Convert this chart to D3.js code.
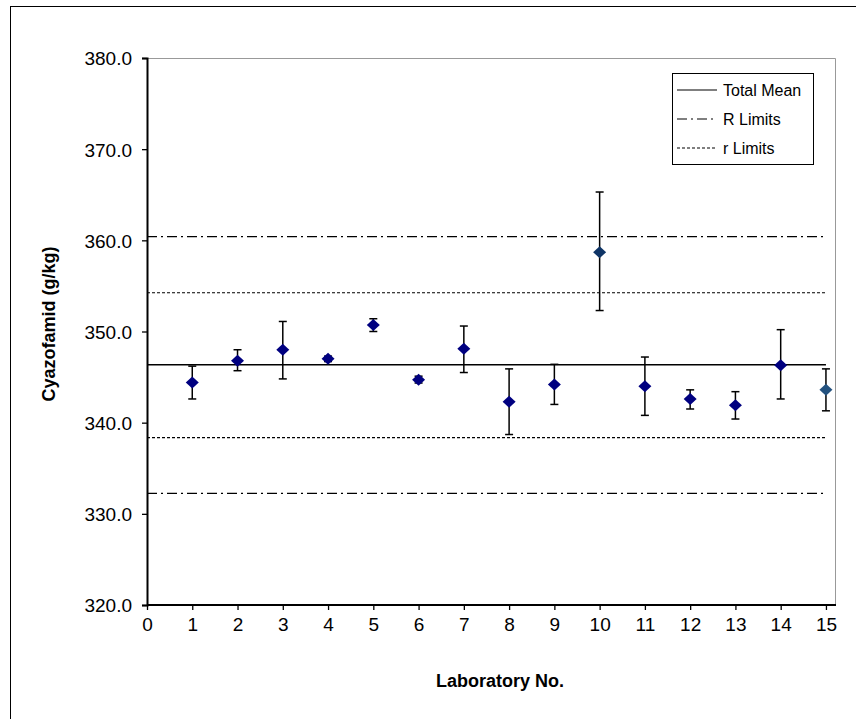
<!DOCTYPE html>
<html lang="en">
<head>
    <meta charset="UTF-8">
    <title>Cyazofamid - Laboratory results</title>
    <script src="https://d3js.org/d3.v7.min.js"></script>
    <style>
        body { margin: 0; background: #fff; font-family: "Liberation Sans", Arial, sans-serif; }
        .tick text { font-size: 19px; fill: #000; }
    </style>
</head>
<body>
<div id="chart"></div>
<script>
    // lab means and error bar ends
    const labs = [1, 2, 3, 4, 5, 6, 7, 8, 9, 10, 11, 12, 13, 14, 15];
    const means = [344.4, 346.8, 348.0, 347.0, 350.7, 344.7, 348.1, 342.3, 344.2, 358.7, 344.0, 342.6, 341.9, 346.3, 343.6];
    const highs = [346.2, 348.0, 351.1, 347.3, 351.4, 345.1, 350.6, 345.9, 346.4, 365.3, 347.2, 343.6, 343.4, 350.2, 345.9];
    const lows  = [342.6, 345.7, 344.8, 346.7, 350.0, 344.35, 345.5, 338.7, 342.0, 352.3, 340.8, 341.5, 340.4, 342.6, 341.3];

    const totalMean = 346.35;
    const bigRLimits = [332.25, 360.4];
    const smallRLimits = [338.35, 354.25];

    const xTicks = d3.range(0, 16);
    const yTicks = [320, 330, 340, 350, 360, 370, 380];

    const width = 856, height = 719;
    const plot = { left: 147, right: 835, top: 58, bottom: 605 };

    const svg = d3.select("#chart").append("svg")
        .attr("width", width)
        .attr("height", height);

    // outer chart frame
    svg.append("rect")
        .attr("x", 10.5).attr("y", 6.5)
        .attr("width", 900).attr("height", 800)
        .attr("fill", "none").attr("stroke", "#000");

    const x = d3.scaleLinear().domain([0, 15.2]).range([plot.left, plot.right]);
    const y = d3.scaleLinear().domain([320, 380]).range([plot.bottom, plot.top]);

    // gray top/right border of plot area
    svg.append("path")
        .attr("d", `M${plot.left},${plot.top + 0.5}H${plot.right + 0.5}V${plot.bottom}`)
        .attr("fill", "none").attr("stroke", "#999").attr("stroke-width", 1);

    // reference lines
    const refLines = [
        { v: totalMean, dash: null, w: 1.5 },
        { v: bigRLimits[0], dash: "10,4,2,4", w: 1.2 },
        { v: bigRLimits[1], dash: "10,4,2,4", w: 1.2 },
        { v: smallRLimits[0], dash: "3,2", w: 1.2 },
        { v: smallRLimits[1], dash: "3,2", w: 1.2 }
    ];
    svg.selectAll(".ref").data(refLines).enter().append("line")
        .attr("class", "ref")
        .attr("x1", x(0)).attr("x2", x(15))
        .attr("y1", d => y(d.v)).attr("y2", d => y(d.v))
        .attr("stroke", "#000")
        .attr("stroke-width", d => d.w)
        .attr("stroke-dasharray", d => d.dash);

    // axes
    const xAxis = svg.append("g")
        .attr("transform", `translate(0,${plot.bottom})`)
        .call(d3.axisBottom(x).tickValues(xTicks).tickFormat(d3.format("d")).tickSizeOuter(0).tickSize(5).tickPadding(8));
    const yAxis = svg.append("g")
        .attr("transform", `translate(${plot.left},0)`)
        .call(d3.axisLeft(y).tickValues(yTicks).tickFormat(d3.format(".1f")).tickSizeOuter(0).tickSize(5).tickPadding(10));
    [xAxis, yAxis].forEach(g => {
        g.select(".domain").attr("stroke", "#000").attr("stroke-width", 2);
        g.selectAll(".tick line").attr("stroke", "#000").attr("stroke-width", 1.3);
        g.selectAll(".tick text").attr("font-family", "Liberation Sans, Arial, sans-serif");
    });
    xAxis.select(".domain").attr("d", `M${plot.left},0H${plot.right + 1}`);
    yAxis.selectAll(".tick text").attr("dy", "0.36em");

    // error bars
    const rows = labs.map((l, i) => ({ lab: l, mean: means[i], hi: highs[i], lo: lows[i] }));
    const eb = svg.append("g").attr("stroke", "#000").attr("stroke-width", 1.5);
    eb.selectAll(".bar").data(rows).enter().append("line")
        .attr("x1", d => x(d.lab)).attr("x2", d => x(d.lab))
        .attr("y1", d => y(d.hi)).attr("y2", d => y(d.lo));
    ["hi", "lo"].forEach(k => {
        eb.selectAll(".cap-" + k).data(rows).enter().append("line")
            .attr("x1", d => x(d.lab) - 4).attr("x2", d => x(d.lab) + 4)
            .attr("y1", d => y(d[k])).attr("y2", d => y(d[k]));
    });

    // diamond markers
    const markerColor = d => d.lab === 10 ? "#0e3466" : d.lab === 15 ? "#24527f" : "#000080";
    svg.selectAll(".pt").data(rows).enter().append("path")
        .attr("class", "pt")
        .attr("transform", d => `translate(${x(d.lab)},${y(d.mean)})`)
        .attr("d", "M0,-6L6.5,0L0,6L-6.5,0Z")
        .attr("fill", markerColor);

    // axis titles
    svg.append("text")
        .attr("x", 500).attr("y", 687)
        .attr("text-anchor", "middle")
        .attr("font-size", 18).attr("font-weight", "bold")
        .text("Laboratory No.");
    svg.append("text")
        .attr("transform", "translate(55,324) rotate(-90)")
        .attr("text-anchor", "middle")
        .attr("font-size", 18).attr("font-weight", "bold")
        .text("Cyazofamid (g/kg)");

    // legend
    const legendItems = [
        { label: "Total Mean", dash: null },
        { label: "R Limits", dash: "10,4,2,4" },
        { label: "r Limits", dash: "3,2" }
    ];
    const lg = svg.append("g").attr("transform", "translate(672,73)");
    lg.append("rect")
        .attr("x", 0.5).attr("y", 0.5)
        .attr("width", 141).attr("height", 91)
        .attr("fill", "#fff").attr("stroke", "#000");
    const li = lg.selectAll(".li").data(legendItems).enter().append("g")
        .attr("transform", (d, i) => `translate(0,${17 + i * 29})`);
    li.append("line")
        .attr("x1", 5).attr("x2", 45)
        .attr("stroke", "#000").attr("stroke-width", 1.2)
        .attr("stroke-dasharray", d => d.dash);
    li.append("text")
        .attr("x", 51).attr("dy", "0.35em")
        .attr("font-size", 16)
        .text(d => d.label);
</script>
</body>
</html>
